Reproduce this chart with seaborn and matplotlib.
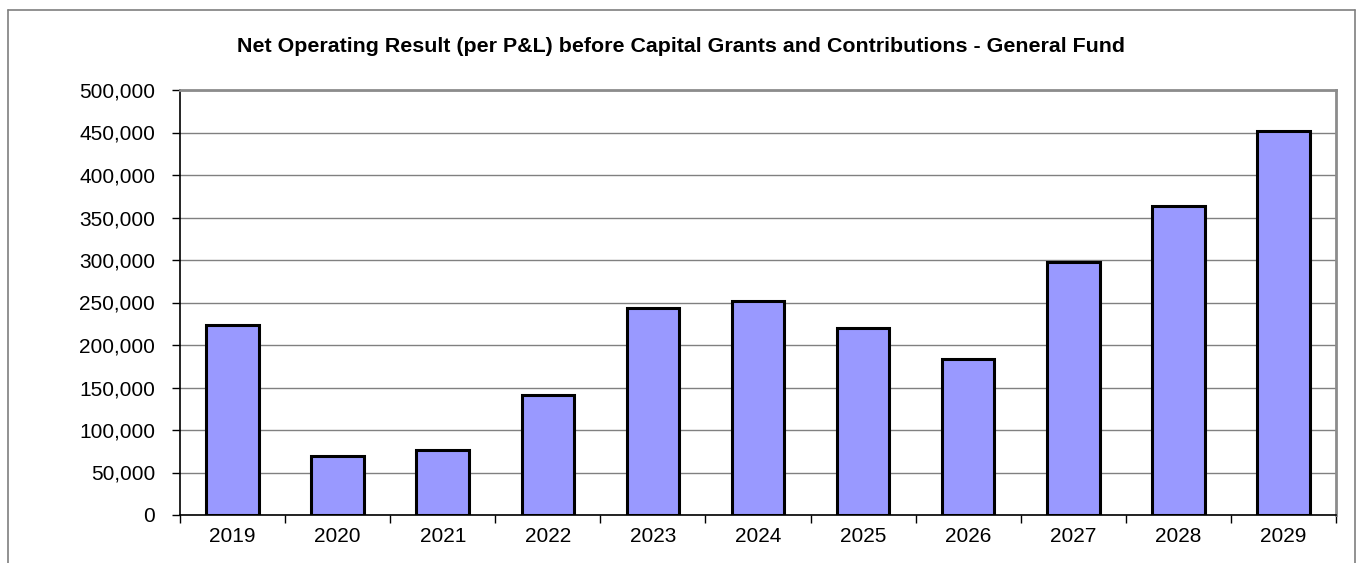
import matplotlib
matplotlib.use("Agg")
import matplotlib.pyplot as plt
from matplotlib.lines import Line2D
from matplotlib.ticker import FuncFormatter, FixedLocator
import seaborn as sns
import pandas as pd

# Net operating result by year (General Fund)
years = ["2019", "2020", "2021", "2022", "2023", "2024", "2025", "2026", "2027", "2028", "2029"]
results = [224000, 69000, 76000, 141000, 244000, 252000, 220000, 183000, 298000, 364000, 452000]

title = "Net Operating Result (per P&L) before Capital Grants and Contributions - General Fund"

sns.set_theme(style="white")
plt.rcParams["font.family"] = ["Liberation Sans", "DejaVu Sans"]

df = pd.DataFrame({"year": years, "result": results})

fig = plt.figure(figsize=(13.57, 5.63), dpi=100)
ax = fig.add_axes([180 / 1357, 1 - 515 / 563, (1336 - 180) / 1357, (515 - 90) / 563])

sns.barplot(data=df, x="year", y="result", ax=ax, color="#9999FF", saturation=1,
            width=0.5, edgecolor="black", linewidth=2.2, zorder=3)

ax.set_ylim(0, 500000)
ax.set_xlim(-0.5, len(years) - 0.5)
ax.set_yticks(range(0, 500001, 50000))
ax.yaxis.set_major_formatter(FuncFormatter(lambda v, p: f"{int(v):,}"))
ax.set_xlabel("")
ax.set_ylabel("")

# horizontal gridlines
ax.yaxis.grid(True, color="#808080", linewidth=1.0, zorder=0)
ax.xaxis.grid(False)
ax.set_axisbelow(True)

# ticks at category boundaries on x, outward ticks on y
ax.xaxis.set_minor_locator(FixedLocator([i - 0.5 for i in range(len(years) + 1)]))
ax.tick_params(axis="x", which="major", length=0, pad=9, labelsize=15, colors="black")
ax.tick_params(axis="x", which="minor", bottom=True, length=6, width=1, color="black")
ax.tick_params(axis="y", which="major", left=True, length=6, width=1, color="black",
               pad=12, labelsize=15, labelcolor="black")

for side in ["left", "bottom"]:
    ax.spines[side].set_color("black")
    ax.spines[side].set_linewidth(1.2)
for side in ["top", "right"]:
    ax.spines[side].set_visible(True)
    ax.spines[side].set_color("#8c8c8c")
    ax.spines[side].set_linewidth(2)

fig.text(681 / 1357, 1 - 46 / 563, title, ha="center", va="center",
         fontsize=15.4, fontweight="bold", color="black")

# outer chart frame
frame_kw = dict(color="#7f7f7f", linewidth=1.2, transform=fig.transFigure)
x0, x1, y0 = 7.5 / 1357, 1354.5 / 1357, 1 - 9.5 / 563
fig.add_artist(Line2D([x0, x1], [y0, y0], **frame_kw))
fig.add_artist(Line2D([x0, x0], [0, y0], **frame_kw))
fig.add_artist(Line2D([x1, x1], [0, y0], **frame_kw))

fig.savefig("out.png", dpi=100)
